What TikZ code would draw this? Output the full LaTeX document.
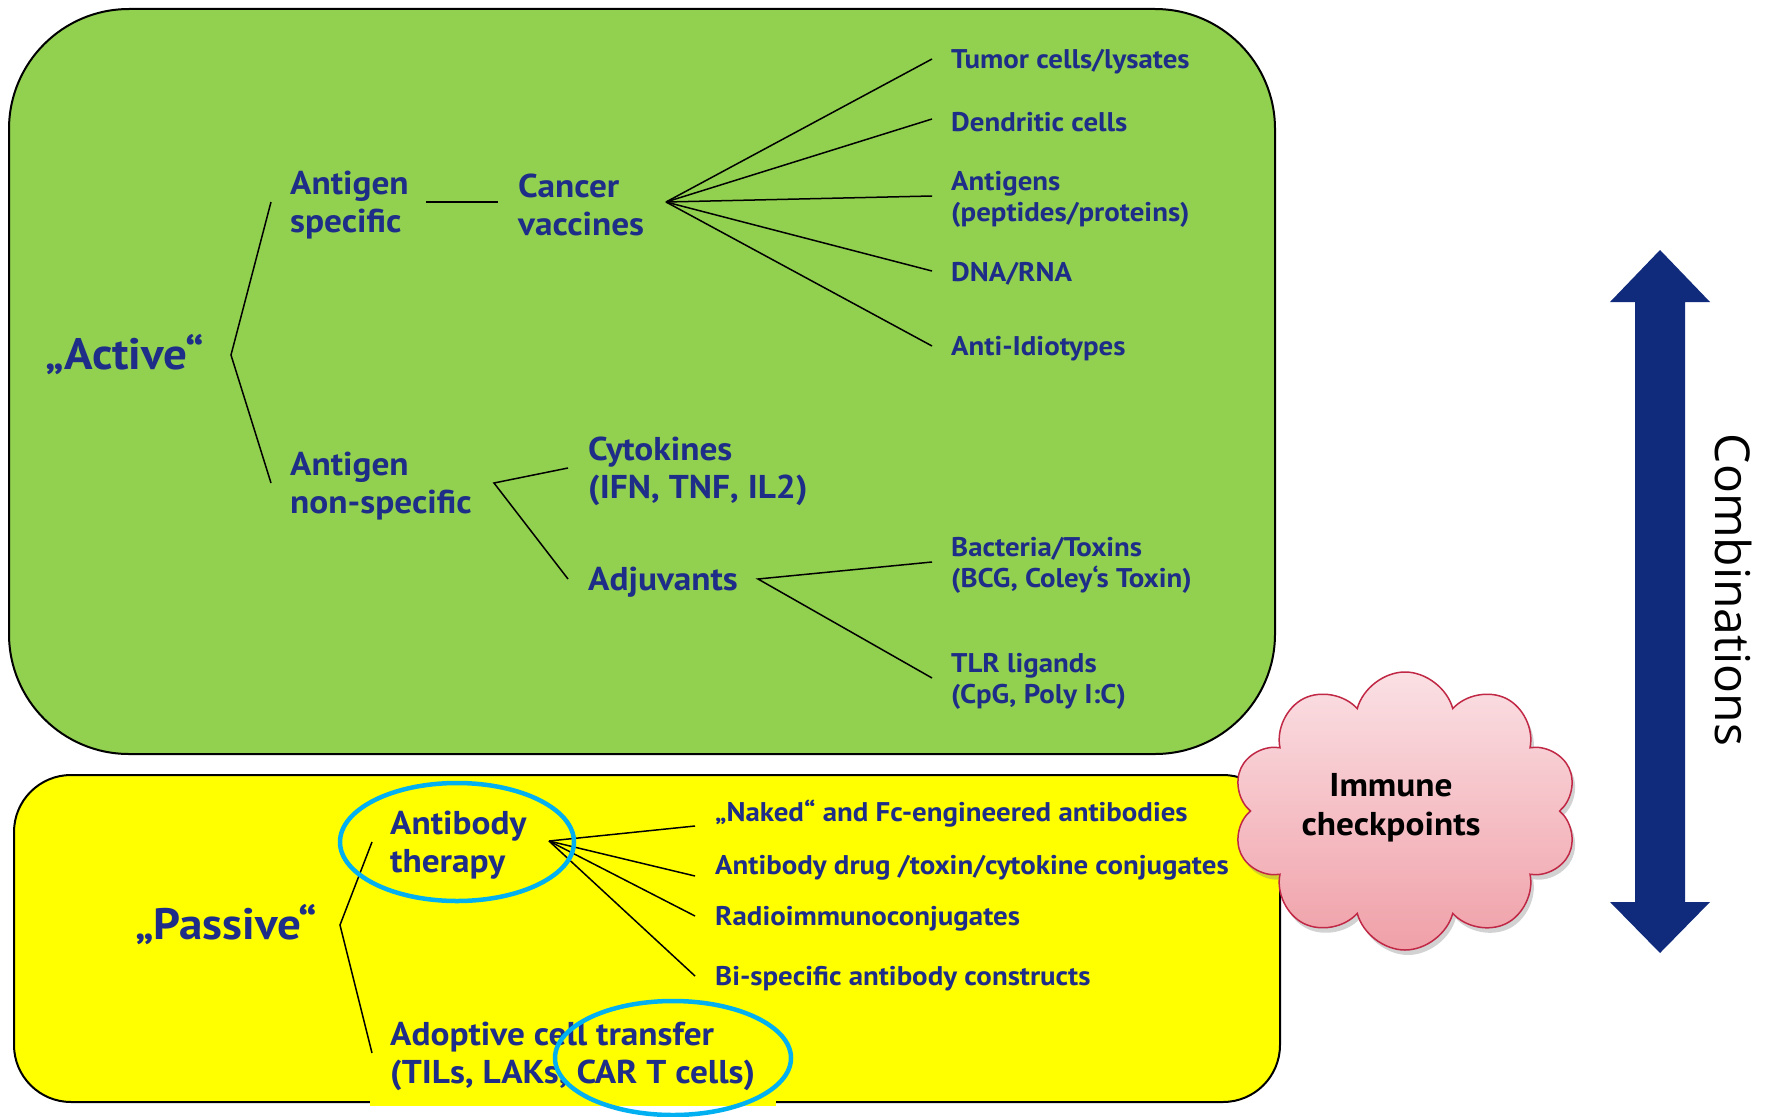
\documentclass[tikz,border=0pt]{standalone}
\usepackage{fontspec}
\setmainfont[FakeStretch=1.07]{PT Sans}
\newfontfamily\combfont{Open Sans}
\usetikzlibrary{shapes.symbols,shadows}
\definecolor{txtblue}{RGB}{30,45,135}
\definecolor{arrowblue}{RGB}{16,42,124}
\definecolor{greenbg}{RGB}{146,208,80}
\definecolor{yellowbg}{RGB}{255,255,0}
\definecolor{ringblue}{RGB}{0,176,240}
\definecolor{cloudedge}{RGB}{192,40,70}
\definecolor{cloudtop}{RGB}{250,224,228}
\definecolor{cloudbot}{RGB}{240,160,168}
\begin{document}
\begin{tikzpicture}[x=1pt,y=-1pt,
  big/.style={text=txtblue, font=\bfseries\fontsize{33}{38}\selectfont, align=left, anchor=west, inner sep=0pt, yshift=-3pt},
  small/.style={text=txtblue, font=\bfseries\fontsize{27}{31}\selectfont, align=left, anchor=west, inner sep=0pt, yshift=-3pt},
  title/.style={text=txtblue, font=\bfseries\fontsize{44}{50}\selectfont, anchor=west, inner sep=0pt},
  link/.style={draw=black, line width=1.5pt},
  ring/.style={draw=ringblue, line width=4.5pt},
  panel/.style={draw=black, line width=2pt},
]
\useasboundingbox (0,0) rectangle (1769,1116);
\fill[white] (0,0) rectangle (1769,1116);

% panels
\draw[panel, fill=greenbg, rounded corners=120pt] (9,9) rectangle (1275,754);
\draw[panel, fill=yellowbg, rounded corners=57pt] (14,775) rectangle (1280,1102);
\fill[yellowbg] (370,1088) rectangle (776,1106);

% active part
\node[title] (active) at (45,355) {„Active“};
\coordinate (abr) at (231,355);
\node[big] (aspec) at (290,202) {Antigen\\specific};
\node[big] (anon) at (290,483) {Antigen\\non-specific};
\node[big] (cvac) at (518,202) {Cancer\\vaccines};
\coordinate (cvfan) at (666,202);
\node[small] (tumor) at (951,59) {Tumor cells/lysates};
\node[small] (dend) at (951,119) {Dendritic cells};
\node[small] (antig) at (951,196) {Antigens\\(peptides/proteins)};
\node[small] (dna) at (951,271) {DNA/RNA};
\node[small] (anti) at (951,346) {Anti-Idiotypes};
\coordinate (anfan) at (494,483);
\node[big] (cyto) at (588,468) {Cytokines\\(IFN, TNF, IL2)};
\node[big] (adj) at (588,579) {Adjuvants};
\coordinate (adjfan) at (758,579);
\node[small] (bact) at (951,562) {Bacteria/Toxins\\(BCG, Coley‘s Toxin)};
\node[small] (tlr) at (951,678) {TLR ligands\\(CpG, Poly I:C)};

\draw[link] ([xshift=-19pt,yshift=3pt]aspec.west) -- (abr) -- ([xshift=-19pt,yshift=3pt]anon.west);
\draw[link] ([xshift=136pt,yshift=3pt]aspec.west) -- ([xshift=-20pt,yshift=3pt]cvac.west);
\foreach \t in {tumor,dend,antig,dna,anti}
  \draw[link] (cvfan) -- ([xshift=-19pt,yshift=3pt]\t.west);
\draw[link] ([xshift=-20pt,yshift=3pt]cyto.west) -- (anfan) -- ([xshift=-20pt,yshift=3pt]adj.west);
\draw[link] ([xshift=-19pt,yshift=3pt]bact.west) -- (adjfan) -- ([xshift=-19pt,yshift=3pt]tlr.west);

% passive part
\node[title] (passive) at (135,925) {„Passive“};
\coordinate (pbr) at (340,925);
\node[big] (abt) at (390,842) {Antibody\\therapy};
\node[big] (adopt) at (390,1053) {Adoptive cell transfer\\(TILs, LAKs, CAR T cells)};
\coordinate (abfan) at (549,841);
\node[small] (naked) at (715,811) {„Naked“ and Fc-engineered antibodies};
\node[small] (drug) at (715,865) {Antibody drug /toxin/cytokine conjugates};
\node[small] (radio) at (715,916) {Radioimmunoconjugates};
\node[small] (bisp) at (715,976) {Bi-specific antibody constructs};

\draw[link] ([xshift=-18pt,yshift=3pt]abt.west) -- (pbr) -- ([xshift=-18pt,yshift=3pt]adopt.west);
\draw[link] (abfan) -- ([xshift=-20pt,yshift=-12pt]naked.west);
\draw[link] (abfan) -- ([xshift=-20pt,yshift=-8pt]drug.west);
\draw[link] (abfan) -- ([xshift=-20pt,yshift=3pt]radio.west);
\draw[link] (abfan) -- ([xshift=-20pt,yshift=3pt]bisp.west);

\draw[ring] (457,842) ellipse [x radius=117pt, y radius=59pt];
\draw[ring] (673,1058) ellipse [x radius=118pt, y radius=57pt];

% cloud
\node[cloud, cloud puffs=10, aspect=1.25, draw=cloudedge, line width=1.5pt,
      top color=cloudtop, bottom color=cloudbot,
      minimum width=345pt, minimum height=278pt, inner sep=0pt,
      drop shadow={opacity=0.35, shadow xshift=3pt, shadow yshift=-5pt}] (cloud) at (1405,811) {};
\node[font=\bfseries\fontsize{33}{39}\selectfont, align=center, inner sep=0pt] (cloudtxt) at (1391,808) {Immune\\checkpoints};

% combinations arrow
\fill[arrowblue] (1660,250) -- (1710,302) -- (1685,302) -- (1685,902) -- (1710,902)
  -- (1660,953) -- (1610,902) -- (1635,902) -- (1635,302) -- (1610,302) -- cycle;
\node[rotate=-90, font=\combfont\fontsize{48}{56}\selectfont, inner sep=0pt] (comb) at (1733,590) {Combinations};
\end{tikzpicture}
\end{document}
